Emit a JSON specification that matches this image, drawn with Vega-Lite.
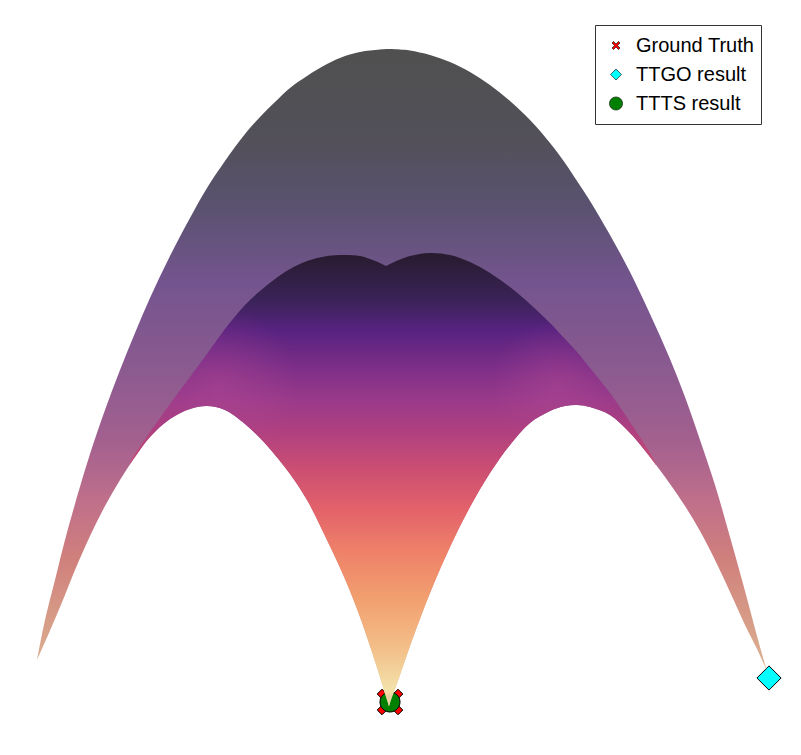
{"$schema":"https://vega.github.io/schema/vega-lite/v6.json","width":801,"height":755,"padding":0,"autosize":{"type":"fit","contains":"padding"},"background":"white","config":{"view":{"stroke":null}},
"encoding":{"x":{"field":"x","type":"quantitative","scale":{"domain":[0,801]},"axis":null}},
"datasets":{
"outer":[{"x":37,"top":660,"bottom":660},{"x":45,"top":620,"bottom":642},{"x":55,"top":580,"bottom":619},{"x":65,"top":540,"bottom":595},{"x":75,"top":504,"bottom":570},{"x":90,"top":454,"bottom":536},{"x":105,"top":410,"bottom":506},{"x":120,"top":370,"bottom":480},{"x":135,"top":333,"bottom":457},{"x":150,"top":298,"bottom":437},{"x":170,"top":256,"bottom":419},{"x":190,"top":218,"bottom":409},{"x":207,"top":188,"bottom":406},{"x":225,"top":161,"bottom":410},{"x":245,"top":134,"bottom":424},{"x":260,"top":117,"bottom":438},{"x":275,"top":102,"bottom":455},{"x":290,"top":88,"bottom":474},{"x":307,"top":76,"bottom":500},{"x":327,"top":64,"bottom":540},{"x":345,"top":56,"bottom":579},{"x":360,"top":52,"bottom":617},{"x":370,"top":50.5,"bottom":646},{"x":380,"top":49.5,"bottom":677},{"x":387,"top":49,"bottom":700},{"x":388,"top":49,"bottom":703},{"x":389,"top":49,"bottom":706},{"x":390,"top":49,"bottom":703},{"x":391,"top":49,"bottom":700},{"x":400,"top":49.5,"bottom":675},{"x":410,"top":50.5,"bottom":646},{"x":430,"top":55,"bottom":593},{"x":450,"top":62,"bottom":547},{"x":470,"top":72,"bottom":507},{"x":490,"top":85,"bottom":473},{"x":510,"top":101,"bottom":445},{"x":530,"top":120,"bottom":423},{"x":550,"top":143,"bottom":411},{"x":565,"top":163,"bottom":406},{"x":577,"top":181,"bottom":405},{"x":590,"top":201,"bottom":407},{"x":610,"top":235,"bottom":415},{"x":630,"top":272,"bottom":433},{"x":650,"top":314,"bottom":457},{"x":670,"top":359,"bottom":484},{"x":685,"top":397,"bottom":506},{"x":700,"top":440,"bottom":531},{"x":715,"top":485,"bottom":560},{"x":730,"top":537,"bottom":592},{"x":745,"top":591,"bottom":625},{"x":757,"top":636,"bottom":649},{"x":762,"top":654,"bottom":660},{"x":767,"top":671,"bottom":671}],
"inner":[{"x":130,"top":462,"bottom":464},{"x":135,"top":454,"bottom":457},{"x":150,"top":432,"bottom":437},{"x":170,"top":404,"bottom":419},{"x":190,"top":377,"bottom":409},{"x":207,"top":354,"bottom":406},{"x":225,"top":329,"bottom":410},{"x":245,"top":305,"bottom":424},{"x":260,"top":291,"bottom":438},{"x":275,"top":279,"bottom":455},{"x":290,"top":269,"bottom":474},{"x":307,"top":261,"bottom":500},{"x":327,"top":256,"bottom":540},{"x":345,"top":255,"bottom":579},{"x":360,"top":256,"bottom":617},{"x":370,"top":259,"bottom":646},{"x":380,"top":263,"bottom":677},{"x":385,"top":265.5,"bottom":694},{"x":386,"top":266,"bottom":697},{"x":387,"top":265.5,"bottom":700},{"x":388,"top":265,"bottom":703},{"x":389,"top":264.5,"bottom":706},{"x":390,"top":264,"bottom":703},{"x":391,"top":263.5,"bottom":700},{"x":400,"top":259.5,"bottom":675},{"x":410,"top":256,"bottom":646},{"x":430,"top":253,"bottom":593},{"x":450,"top":255,"bottom":547},{"x":470,"top":262,"bottom":507},{"x":490,"top":273,"bottom":473},{"x":510,"top":287,"bottom":445},{"x":530,"top":304,"bottom":423},{"x":550,"top":323,"bottom":411},{"x":565,"top":339,"bottom":406},{"x":577,"top":352,"bottom":405},{"x":590,"top":368,"bottom":407},{"x":610,"top":393,"bottom":415},{"x":630,"top":422,"bottom":433},{"x":650,"top":453,"bottom":457},{"x":656,"top":464,"bottom":465}],
"glowL":[{"x":150,"top":432,"bottom":437},{"x":170,"top":404,"bottom":419},{"x":190,"top":377,"bottom":409},{"x":207,"top":354,"bottom":406},{"x":225,"top":329,"bottom":410},{"x":245,"top":305,"bottom":424},{"x":260,"top":291,"bottom":438},{"x":275,"top":279,"bottom":455},{"x":290,"top":269,"bottom":474},{"x":307,"top":261,"bottom":500}],
"glowR":[{"x":490,"top":273,"bottom":473},{"x":510,"top":287,"bottom":445},{"x":530,"top":304,"bottom":423},{"x":550,"top":323,"bottom":411},{"x":565,"top":339,"bottom":406},{"x":577,"top":352,"bottom":405},{"x":590,"top":368,"bottom":407},{"x":610,"top":393,"bottom":415},{"x":630,"top":422,"bottom":433},{"x":650,"top":453,"bottom":457}],
"points":[{"method":"Ground Truth","x":390,"y":702},{"method":"TTGO result","x":769,"y":678},{"method":"TTTS result","x":390,"y":702}]},
"layer":[
{"data":{"name":"points"},"transform":[{"filter":"datum.method==='Ground Truth'"}],"mark":{"type":"point","filled":true,"stroke":"black","strokeWidth":1,"opacity":1,"size":1024},
"encoding":{"y":{"field":"y","type":"quantitative","scale":{"domain":[755,0]},"axis":null},
"color":{"field":"method","type":"nominal","scale":{"domain":["Ground Truth","TTGO result","TTTS result"],"range":["#ff0000","#00ffff","#008000"]},
"legend":{"title":null,"orient":"none","legendX":595,"legendY":25,"fillColor":"white","strokeColor":"#333333","cornerRadius":0,"padding":6,"labelFont":"Liberation Sans","labelFontSize":20,"labelColor":"black","labelLimit":200,"labelOffset":10,"rowPadding":0,"clipHeight":29,"symbolOffset":5,"symbolSize":100,"symbolStrokeColor":"black","symbolStrokeWidth":0.6,"symbolOpacity":1}},
"shape":{"field":"method","type":"nominal","scale":{"domain":["Ground Truth","TTGO result","TTTS result"],"range":["M-0.8,-0.5L-0.5,-0.8L0,-0.3L0.5,-0.8L0.8,-0.5L0.3,0L0.8,0.5L0.5,0.8L0,0.3L-0.5,0.8L-0.8,0.5L-0.3,0Z","M0,-1.1L1.1,0L0,1.1L-1.1,0Z","M-1.3,0A1.3,1.3 0 1,1 1.3,0A1.3,1.3 0 1,1 -1.3,0Z"]}}}},
{"data":{"name":"points"},"transform":[{"filter":"datum.method==='TTGO result'"}],"mark":{"type":"point","filled":true,"stroke":"black","strokeWidth":1,"opacity":1,"size":484},
"encoding":{"y":{"field":"y","type":"quantitative","scale":{"domain":[755,0]},"axis":null},"color":{"field":"method","type":"nominal"},"shape":{"field":"method","type":"nominal"}}},
{"data":{"name":"points"},"transform":[{"filter":"datum.method==='TTTS result'"}],"mark":{"type":"point","filled":true,"stroke":"black","strokeWidth":1,"opacity":1,"size":237},
"encoding":{"y":{"field":"y","type":"quantitative","scale":{"domain":[755,0]},"axis":null},"color":{"field":"method","type":"nominal"},"shape":{"field":"method","type":"nominal"}}},
{"data":{"name":"outer"},
"mark":{"type":"area","interpolate":"catmull-rom","color":{"gradient":"linear","x1":0,"y1":0,"x2":0,"y2":1,"stops":[{"offset":0,"color":"#505050"},{"offset":0.13,"color":"#525058"},{"offset":0.242,"color":"#5a5270"},{"offset":0.355,"color":"#74548e"},{"offset":0.483,"color":"#8a5a90"},{"offset":0.596,"color":"#a3608f"},{"offset":0.692,"color":"#c0708a"},{"offset":0.772,"color":"#cf7f7c"},{"offset":0.884,"color":"#d8a088"},{"offset":1,"color":"#e0c8a0"}]}},
"encoding":{"y":{"field":"top","type":"quantitative","scale":{"domain":[755,0]},"axis":null},"y2":{"field":"bottom"}}},
{"data":{"name":"inner"},
"mark":{"type":"area","interpolate":"catmull-rom","color":{"gradient":"linear","x1":0,"y1":0,"x2":0,"y2":1,"stops":[{"offset":0,"color":"#281b2e"},{"offset":0.104,"color":"#3a2358"},{"offset":0.17,"color":"#572280"},{"offset":0.258,"color":"#7f2f88"},{"offset":0.325,"color":"#9a3a8a"},{"offset":0.39,"color":"#ae3f80"},{"offset":0.479,"color":"#cc4f72"},{"offset":0.567,"color":"#e3626a"},{"offset":0.656,"color":"#ee8068"},{"offset":0.766,"color":"#f2a070"},{"offset":0.876,"color":"#f3c08a"},{"offset":0.96,"color":"#f3e0a8"},{"offset":0.969,"color":"#f3e0a8"},{"offset":0.978,"color":"rgba(243,224,168,0.45)"},{"offset":1,"color":"rgba(243,224,168,0.7)"}]}},
"encoding":{"y":{"field":"top","type":"quantitative","scale":{"domain":[755,0]},"axis":null},"y2":{"field":"bottom"}}},
{"data":{"name":"glowL"},
"mark":{"type":"area","interpolate":"catmull-rom","color":{"gradient":"radial","x1":0.46,"y1":0.52,"r1":0,"x2":0.46,"y2":0.52,"r2":0.33,"stops":[{"offset":0,"color":"rgba(184,76,149,0.4)"},{"offset":1,"color":"rgba(184,76,149,0)"}]}},
"encoding":{"y":{"field":"top","type":"quantitative","scale":{"domain":[755,0]},"axis":null},"y2":{"field":"bottom"}}},
{"data":{"name":"glowR"},
"mark":{"type":"area","interpolate":"catmull-rom","color":{"gradient":"radial","x1":0.44,"y1":0.56,"r1":0,"x2":0.44,"y2":0.56,"r2":0.33,"stops":[{"offset":0,"color":"rgba(184,76,149,0.4)"},{"offset":1,"color":"rgba(184,76,149,0)"}]}},
"encoding":{"y":{"field":"top","type":"quantitative","scale":{"domain":[755,0]},"axis":null},"y2":{"field":"bottom"}}}
]}
